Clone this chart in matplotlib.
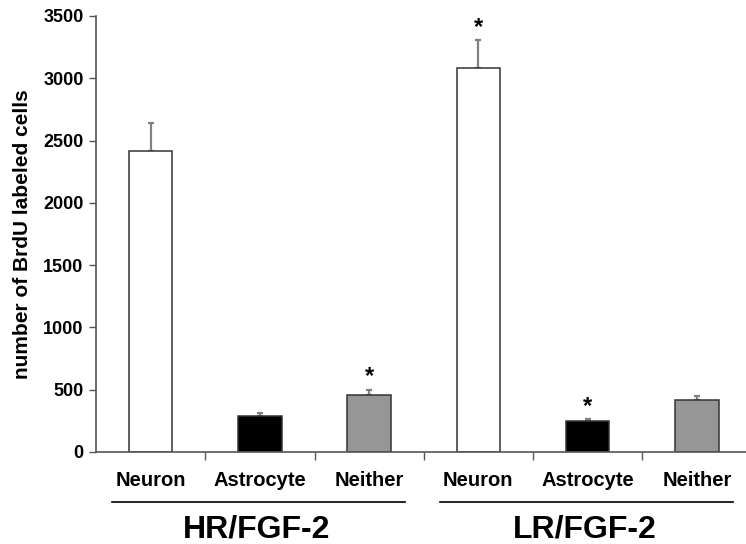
# lib data visualizations
import matplotlib
matplotlib.use("Agg")
import matplotlib.pyplot as plt
# ----------------------------------------------------------------------------------------

# data
groups = ["HR/FGF-2", "LR/FGF-2"]
cell_types = ["Neuron", "Astrocyte", "Neither"]
hr_means = [2420, 290, 455]
hr_errors = [225, 25, 45]
lr_means = [3080, 245, 417]
lr_errors = [225, 16, 32]
hr_signif = [False, False, True]
lr_signif = [True, True, False]
yticks = [0, 500, 1000, 1500, 2000, 2500, 3000, 3500]

colors = ["white", "black", "#969696"]
font = "Liberation Sans"

# build positions
means = hr_means + lr_means
errors = hr_errors + lr_errors
signif = hr_signif + lr_signif
labels = cell_types * len(groups)
bar_colors = colors * len(groups)
xpos = list(range(len(means)))

# create barplot
fig = plt.figure(figsize=(7.46, 5.44), dpi=100)
ax = fig.add_axes([96 / 746, 1 - 452 / 544, 655.5 / 746, 436 / 544])

ax.bar(xpos, means, width=0.4, color=bar_colors, edgecolor="#333333", linewidth=1.1, zorder=2)
ax.errorbar(xpos, means, yerr=[[0] * len(errors), errors], fmt="none",
            ecolor="#808080", elinewidth=1.6, capsize=2.5, capthick=1.6, zorder=1)

for x, m, e, s in zip(xpos, means, errors, signif):
    if s:
        ax.annotate("*", (x, m + e), xytext=(0, 1), textcoords="offset points",
                    ha="center", va="bottom", fontsize=17, fontweight="bold",
                    family=font)

# axes
ax.set_xlim(-0.5, len(means) - 0.5)
ax.set_ylim(0, 3500)
ax.set_yticks(yticks)
ax.set_yticklabels([str(t) for t in yticks], fontsize=13, fontweight="bold", family=font)
ax.set_xticks([i + 0.5 for i in xpos[:-1]])
ax.set_xticklabels([])
ax.set_xticks(xpos, minor=True)
ax.set_xticklabels(labels, minor=True, fontsize=14.5, fontweight="bold", family=font)
ax.tick_params(axis="x", which="major", direction="out", length=6, width=1, color="#555555")
ax.tick_params(axis="x", which="minor", length=0, pad=14)
ax.tick_params(axis="y", direction="out", length=5, width=1, color="#555555", pad=4)

for side in ["top", "right"]:
    ax.spines[side].set_visible(False)
for side in ["left", "bottom"]:
    ax.spines[side].set_color("#555555")
    ax.spines[side].set_linewidth(1.2)

ax.set_ylabel("number of BrdU labeled cells", fontsize=15, fontweight="bold",
              family=font, labelpad=8)

# group labels and lines
n = len(cell_types)
for g, name in enumerate(groups):
    center = g * n + (n - 1) / 2
    ax.plot([center - 1.35, center + 1.33], [-0.115, -0.115], color="black", lw=1.2,
            transform=ax.get_xaxis_transform(), clip_on=False)
    ax.text(center - 0.03, -0.177, name, transform=ax.get_xaxis_transform(),
            ha="center", va="center", fontsize=23, fontweight="bold", family=font)

fig.savefig("out.png", dpi=100)
